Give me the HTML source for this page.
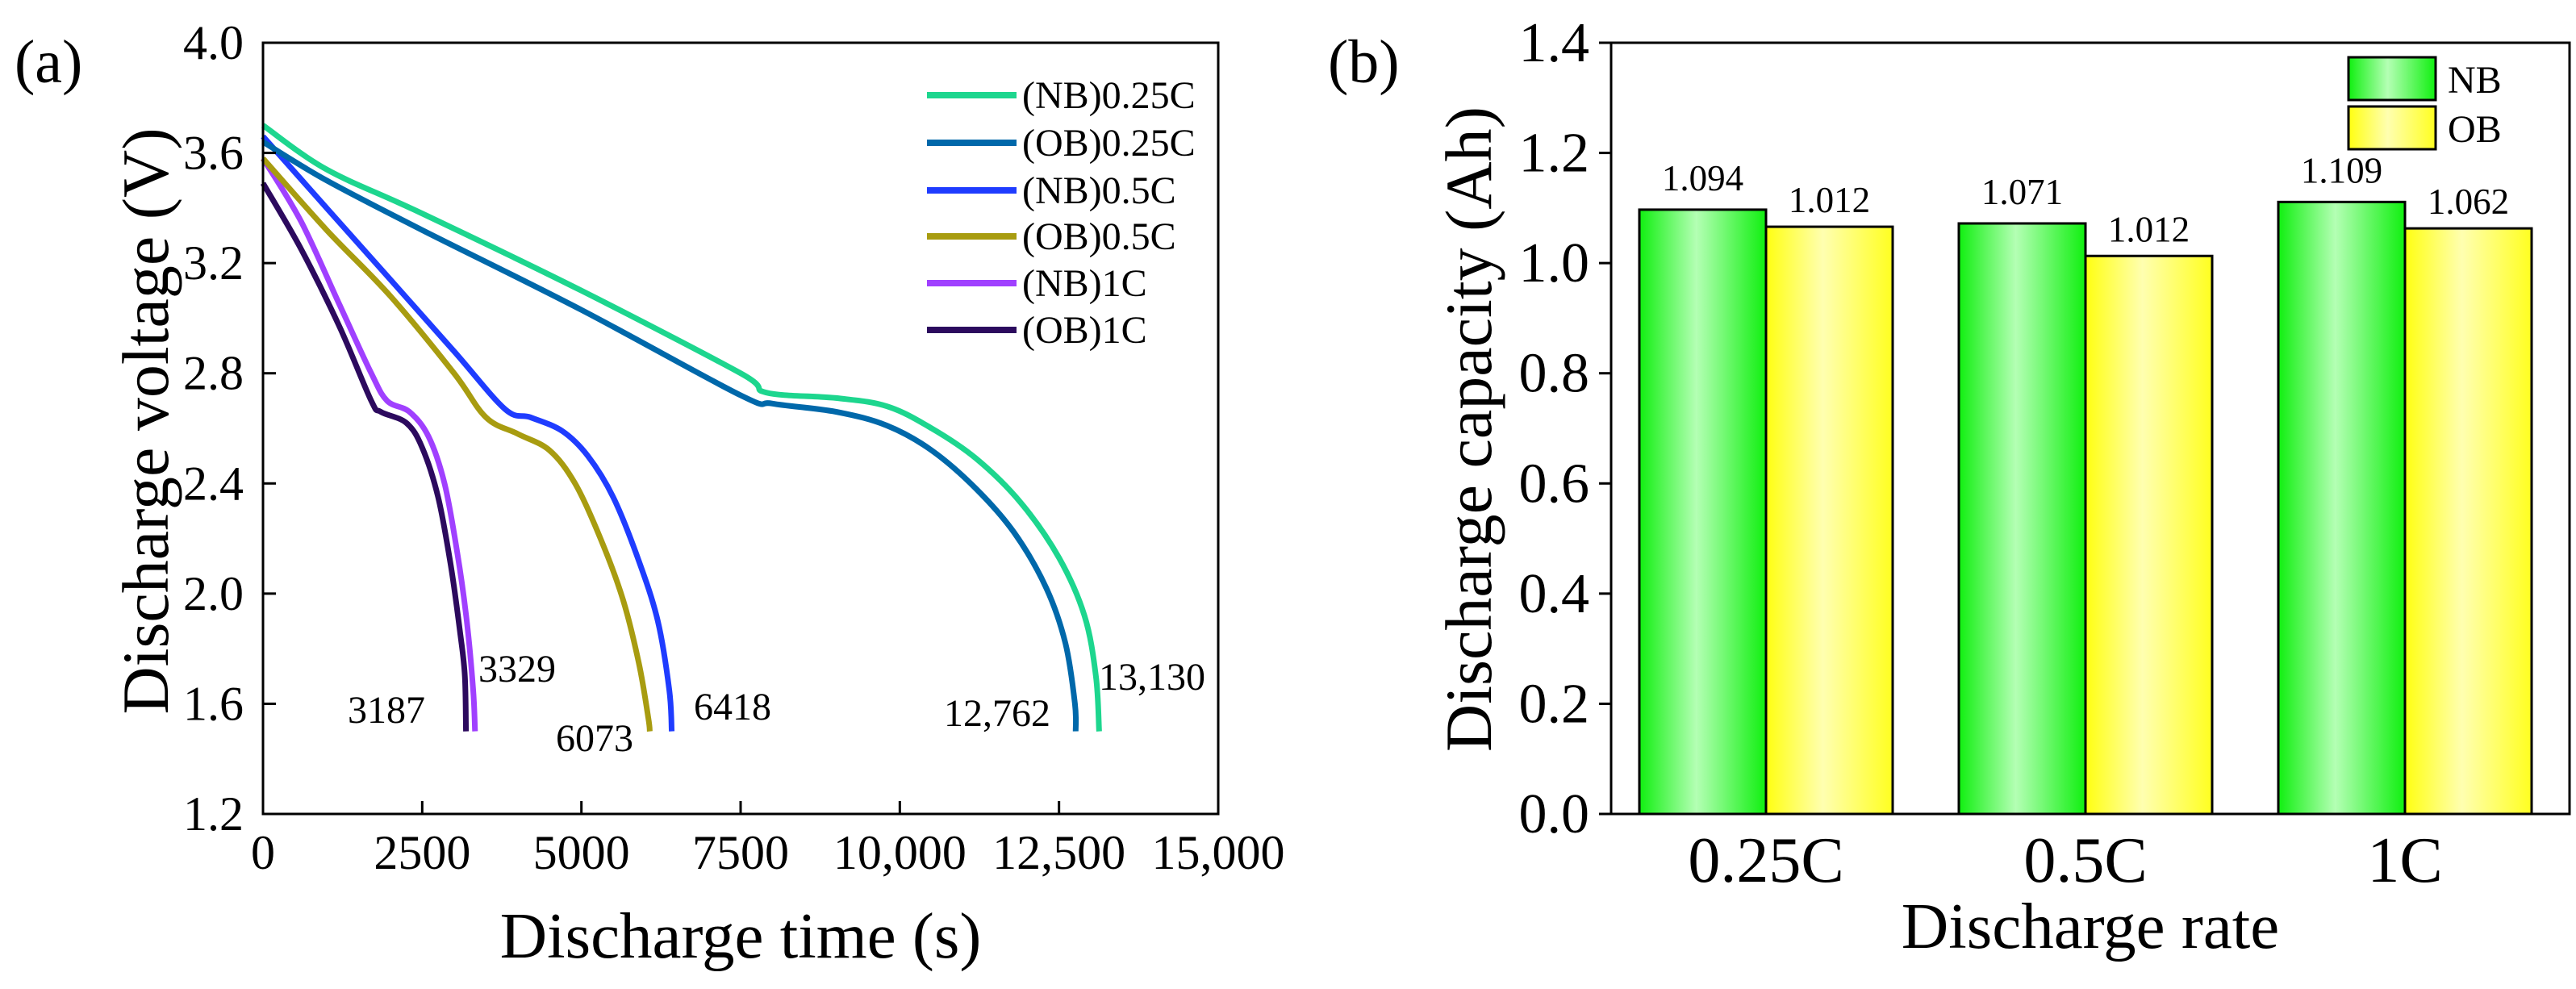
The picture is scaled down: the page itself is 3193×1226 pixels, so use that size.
<!DOCTYPE html>
<html><head><meta charset="utf-8">
<style>
html,body{margin:0;padding:0;background:#fff;}
svg{display:block;font-family:"Liberation Serif",serif;}
text{font-family:"Liberation Serif","Times New Roman",serif;}
</style></head>
<body>
<svg id="fig" width="3193" height="1226" viewBox="0 0 3193 1226" xmlns="http://www.w3.org/2000/svg" font-family="Liberation Serif, serif">
<defs>
<linearGradient id="gGreen" x1="0" x2="1" y1="0" y2="0">
<stop offset="0" stop-color="#10f010"/><stop offset="0.45" stop-color="#b4ffb4"/><stop offset="1" stop-color="#10f010"/>
</linearGradient>
<linearGradient id="gYellow" x1="0" x2="1" y1="0" y2="0">
<stop offset="0" stop-color="#ffff10"/><stop offset="0.45" stop-color="#ffffb0"/><stop offset="1" stop-color="#ffff20"/>
</linearGradient>
</defs>
<g id="panelA"></g>
<g id="panelB"></g>
</svg>
<script>
// ---- Panel (a) data ----
const seriesNames = ["(NB)0.25C","(OB)0.25C","(NB)0.5C","(OB)0.5C","(NB)1C","(OB)1C"];
const nb025T = [0,1000,2500,5000,7500,7900,9000,9800,10500,11200,11900,12500,12900,13080,13130];
const nb025V = [3.70,3.54,3.38,3.10,2.80,2.73,2.71,2.68,2.60,2.49,2.33,2.13,1.92,1.70,1.50];
const ob025T = [0,1000,2500,5000,7500,8000,9000,9800,10500,11200,11800,12300,12600,12750,12762];
const ob025V = [3.64,3.50,3.32,3.03,2.72,2.69,2.66,2.61,2.52,2.38,2.22,2.02,1.82,1.60,1.50];
const nb05T = [0,1000,2000,3000,3800,4200,4700,5100,5500,5900,6200,6380,6418];
const nb05V = [3.66,3.40,3.14,2.88,2.67,2.64,2.59,2.50,2.35,2.12,1.90,1.65,1.50];
const ob05T = [0,1000,2000,3000,3500,4000,4500,4900,5300,5650,5900,6050,6073];
const ob05V = [3.58,3.32,3.08,2.80,2.64,2.58,2.52,2.40,2.20,1.98,1.75,1.55,1.50];
const nb1T = [0,600,1200,1700,1950,2300,2600,2850,3050,3200,3300,3329];
const nb1V = [3.58,3.35,3.05,2.80,2.70,2.66,2.57,2.40,2.15,1.90,1.65,1.50];
const ob1T = [0,600,1200,1700,1850,2250,2500,2750,2950,3100,3170,3187];
const ob1V = [3.49,3.25,2.97,2.70,2.66,2.62,2.53,2.35,2.10,1.85,1.70,1.50];
const xTicksA = [0,2500,5000,7500,10000,12500,15000];
const xTickLabelsA = ["0","2500","5000","7500","10,000","12,500","15,000"];
const yTicksA = [1.2,1.6,2.0,2.4,2.8,3.2,3.6,4.0];
const endLabels = ["3187","3329","6073","6418","12,762","13,130"];

// ---- Panel (b) data ----
const categories = ["0.25C","0.5C","1C"];
const nbValues = [1.097,1.072,1.111];
const obValues = [1.066,1.013,1.063];
const nbLabels = ["1.094","1.071","1.109"];
const obLabels = ["1.012","1.012","1.062"];
const yTicksB = [0.0,0.2,0.4,0.6,0.8,1.0,1.2,1.4];

const NS="http://www.w3.org/2000/svg";
function mk(tag, attrs, parent, text){
  const e=document.createElementNS(NS,tag);
  for(const k in attrs) e.setAttribute(k,attrs[k]);
  if(tag==='text') e.setAttribute('font-family','Liberation Serif, Times New Roman, serif');
  if(text!==undefined) e.textContent=text;
  parent.appendChild(e); return e;
}
function smoothPath(pts){
  let d='M'+pts[0][0].toFixed(1)+','+pts[0][1].toFixed(1);
  for(let i=0;i<pts.length-1;i++){
    const p0=pts[i-1]||pts[i],p1=pts[i],p2=pts[i+1],p3=pts[i+2]||p2;
    const c1=[p1[0]+(p2[0]-p0[0])/6,p1[1]+(p2[1]-p0[1])/6];
    const c2=[p2[0]-(p3[0]-p1[0])/6,p2[1]-(p3[1]-p1[1])/6];
    d+=' C'+c1[0].toFixed(1)+','+c1[1].toFixed(1)+' '+c2[0].toFixed(1)+','+c2[1].toFixed(1)+' '+p2[0].toFixed(1)+','+p2[1].toFixed(1);
  }
  return d;
}
const A=document.getElementById('panelA');
const B=document.getElementById('panelB');

const aL=326,aR=1510,aT=53,aB=1009;
const xA=t=>aL+(t/15000)*(aR-aL);
const yA=v=>aB-(v-1.2)/2.8*(aB-aT);

let t=mk('text',{x:18,y:102,'font-size':76},A,'(a)');



const colors=["#1dd68e","#0068aa","#1f3cff","#a89c10","#a040ff","#2c0a5e"];
const Ts=[nb025T,ob025T,nb05T,ob05T,nb1T,ob1T];
const Vs=[nb025V,ob025V,nb05V,ob05V,nb1V,ob1V];
const lineNames=['line-nb-025c','line-ob-025c','line-nb-05c','line-ob-05c','line-nb-1c','line-ob-1c'];
for(let s=Ts.length-1;s>=0;s--){
  const pts=Ts[s].map((tt,i)=>[xA(tt),yA(Vs[s][i])]);
  const p=mk('path',{d:smoothPath(pts),fill:'none',stroke:colors[s],'stroke-width':7,'stroke-linejoin':'round'},A);
  
  
}
let r=mk('rect',{x:aL,y:aT,width:aR-aL,height:aB-aT,fill:'none',stroke:'#000','stroke-width':3},A);


xTicksA.forEach((v,i)=>{
  const l=mk('line',{x1:xA(v),x2:xA(v),y1:aB,y2:aB-16,stroke:'#000','stroke-width':3},A);
  
  
  const tx=mk('text',{x:xA(v),y:1077,'font-size':60,'text-anchor':'middle'},A,xTickLabelsA[i]);
  
  
});
yTicksA.forEach(v=>{
  const l=mk('line',{x1:aL,x2:aL+16,y1:yA(v),y2:yA(v),stroke:'#000','stroke-width':3},A);
  
  
  const tx=mk('text',{x:302,y:yA(v)+20,'font-size':60,'text-anchor':'end'},A,v.toFixed(1));
  
  
});
t=mk('text',{x:(aL+aR)/2,y:1187,'font-size':81,'text-anchor':'middle'},A,'Discharge time (s)');


t=mk('text',{x:0,y:0,'font-size':82,'text-anchor':'middle',transform:'translate(208,522) rotate(-90)'},A,'Discharge voltage (V)');


const endPos=[[431,896],[593,845],[689,931],[860,892],[1170,900],[1362,855]];
endLabels.forEach((s,i)=>{
  const tx=mk('text',{x:endPos[i][0],y:endPos[i][1],'font-size':48},A,s);
  
  
});
const legY=[118,177,236,293,351,409];
seriesNames.forEach((n,i)=>{
  const l=mk('line',{x1:1149,x2:1260,y1:legY[i],y2:legY[i],stroke:colors[i],'stroke-width':8},A);
  
  
  const tx=mk('text',{x:1267,y:legY[i]+16,'font-size':48},A,n);
  
  
});

// ---- Panel B ----
const bL=1997,bR=3185,bT=53,bB=1009;
const yB=v=>bB-(v/1.4)*(bB-bT);
const band=(bR-bL)/categories.length;
const barW=157;
t=mk('text',{x:1646,y:102,'font-size':76},B,'(b)');


categories.forEach((c,i)=>{
  const cx=bL+band*(i+0.5)-6;
  const g=mk('rect',{x:cx-barW,y:yB(nbValues[i]),width:barW,height:bB-yB(nbValues[i]),fill:'url(#gGreen)',stroke:'#000','stroke-width':3},B);
  
  
  const yb=mk('rect',{x:cx,y:yB(obValues[i]),width:barW,height:bB-yB(obValues[i]),fill:'url(#gYellow)',stroke:'#000','stroke-width':3},B);
  
  
  let tx=mk('text',{x:cx-barW/2,y:yB(nbValues[i])-24,'font-size':45,'text-anchor':'middle'},B,nbLabels[i]);
  
  
  tx=mk('text',{x:cx+barW/2,y:yB(obValues[i])-18,'font-size':45,'text-anchor':'middle'},B,obLabels[i]);
  
  
  tx=mk('text',{x:cx,y:1093,'font-size':80,'text-anchor':'middle'},B,c);
  
  
});
r=mk('rect',{x:bL,y:bT,width:bR-bL,height:bB-bT,fill:'none',stroke:'#000','stroke-width':3},B);


yTicksB.forEach(v=>{
  const l=mk('line',{x1:bL-15,x2:bL,y1:yB(v),y2:yB(v),stroke:'#000','stroke-width':3},B);
  
  
  const tx=mk('text',{x:1970,y:yB(v)+23,'font-size':70,'text-anchor':'end'},B,v.toFixed(1));
  
  
});
t=mk('text',{x:(bL+bR)/2,y:1175,'font-size':81,'text-anchor':'middle'},B,'Discharge rate');


t=mk('text',{x:0,y:0,'font-size':82,'text-anchor':'middle',transform:'translate(1848,532) rotate(-90)'},B,'Discharge capacity (Ah)');


r=mk('rect',{x:2911,y:71,width:108,height:53,fill:'url(#gGreen)',stroke:'#000','stroke-width':3},B);


r=mk('rect',{x:2911,y:132,width:108,height:53,fill:'url(#gYellow)',stroke:'#000','stroke-width':3},B);


t=mk('text',{x:3034,y:115,'font-size':48},B,'NB');


t=mk('text',{x:3034,y:176,'font-size':48},B,'OB');


</script>
</body></html>
